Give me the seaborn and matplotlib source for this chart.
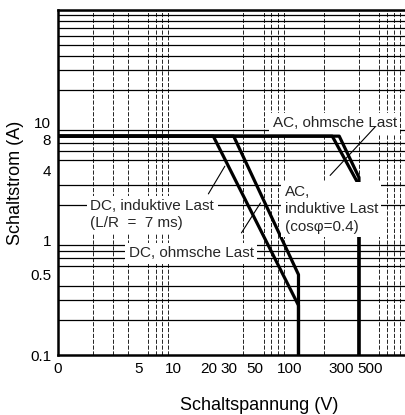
import numpy as np
import pandas as pd
import matplotlib
matplotlib.use("Agg")
import matplotlib.pyplot as plt
import seaborn as sns
from matplotlib.ticker import FixedLocator, FixedFormatter, LogLocator, NullFormatter
from matplotlib.transforms import ScaledTranslation

# Grenzkurven (Schaltspannung V, Schaltstrom A)
dc_induktiv_v = [1, 22, 120, 120]
dc_induktiv_a = [8, 8, 0.27, 0.1]
dc_ohmsch_v = [1, 33, 120, 120]
dc_ohmsch_a = [8, 8, 0.5, 0.1]
ac_induktiv_v = [1, 235, 400, 400]
ac_induktiv_a = [8, 8, 3.0, 0.1]
ac_ohmsch_v = [1, 270, 400, 400]
ac_ohmsch_a = [8, 8, 3.5, 0.1]

x_ticks = [1, 5, 10, 20, 30, 50, 100, 300, 500]
x_labels = ["0", "5", "10", "20", "30", "50", "100", "300", "500"]
y_ticks = [0.1, 0.5, 1, 4, 8, 10]
y_labels = ["0.1", "0.5", "1", "4", "8", "10"]

sns.set_theme(style="white")
plt.rcParams["font.family"] = ["Liberation Sans", "DejaVu Sans"]

curves = {
    "DC, induktive Last": (dc_induktiv_v, dc_induktiv_a),
    "DC, ohmsche Last": (dc_ohmsch_v, dc_ohmsch_a),
    "AC, induktive Last": (ac_induktiv_v, ac_induktiv_a),
    "AC, ohmsche Last": (ac_ohmsch_v, ac_ohmsch_a),
}
frames = []
for name, (v, a) in curves.items():
    d = pd.DataFrame({"V": v, "A": a})
    d["Kurve"] = name
    frames.append(d)
df = pd.concat(frames, ignore_index=True)

fig = plt.figure(figsize=(4.05, 4.15), dpi=100)
ax = fig.add_axes([58 / 405, 60 / 415, 347 / 405, 345 / 415])
ax.set_xscale("log")
ax.set_yscale("log")

sns.lineplot(data=df, x="V", y="A", hue="Kurve", units="Kurve", estimator=None,
             sort=False, palette={k: "black" for k in curves}, linewidth=2.3,
             legend=False, ax=ax, zorder=3)

ax.set_xlim(1, 1000)
ax.set_ylim(0.1, 100)

# log grid: every 1..9 per decade
ax.xaxis.set_minor_locator(LogLocator(base=10, subs=np.arange(1, 10), numticks=50))
ax.yaxis.set_minor_locator(LogLocator(base=10, subs=np.arange(1, 10), numticks=50))
ax.xaxis.set_minor_formatter(NullFormatter())
ax.yaxis.set_minor_formatter(NullFormatter())
ax.grid(False)
ax.grid(which="minor", axis="y", color="black", linewidth=0.9, zorder=1)
ax.grid(which="minor", axis="x", color="black", linewidth=0.6,
        linestyle=(0, (5, 2)), zorder=1)
ax.set_axisbelow(True)

ax.xaxis.set_major_locator(FixedLocator(x_ticks))
ax.xaxis.set_major_formatter(FixedFormatter(x_labels))
ax.yaxis.set_major_locator(FixedLocator(y_ticks))
ax.yaxis.set_major_formatter(FixedFormatter(y_labels))
ax.tick_params(which="both", length=0, labelsize=11, colors="black")
ax.tick_params(axis="x", pad=5)
ax.tick_params(axis="y", pad=5)

for side in ["left", "top", "bottom"]:
    ax.spines[side].set_color("black")
    ax.spines[side].set_linewidth(1.8)
ax.spines["right"].set_visible(False)

ax.set_xlabel("Schaltspannung (V)", fontsize=13, color="black")
ax.xaxis.set_label_coords(0.58, -0.122)
ax.set_ylabel("Schaltstrom (A)", fontsize=13, color="black")
ax.yaxis.set_label_coords(-0.097, 0.5)

box = dict(facecolor="white", edgecolor="none", pad=2.5)
ax.text(72, 10.4, "AC, ohmsche Last", fontsize=11, ha="left", va="center",
        bbox=box, zorder=5)
ax.text(91, 3.0, "AC,\ninduktive Last\n(cos\u03c6=0.4)", fontsize=11, ha="left",
        va="top", linespacing=1.3, bbox=box, zorder=5)
ax.text(1.9, 2.25, "DC, induktive Last\n(L/R  =  7 ms)", fontsize=11, ha="left",
        va="top", linespacing=1.2, bbox=box, zorder=5)
ax.text(4.1, 0.77, "DC, ohmsche Last", fontsize=11, ha="left", va="center",
        bbox=box, zorder=5)

lead = dict(arrowstyle="-", color="black", linewidth=0.8)
ax.annotate("", xy=(28.5, 4.6), xytext=(19.4, 2.4), arrowprops=lead, zorder=6)
ax.annotate("", xy=(58, 2.2), xytext=(37.4, 1.1), arrowprops=lead, zorder=6)
ax.annotate("", xy=(217, 3.5), xytext=(572, 10.0), arrowprops=lead, zorder=6)

# small nudges of crowded tick labels, as in the printed chart
def nudge(tick, dx, dy):
    tick.label1.set_transform(tick.label1.get_transform()
                              + ScaledTranslation(dx / 100, dy / 100, fig.dpi_scale_trans))

yt = ax.yaxis.get_major_ticks()
nudge(yt[y_labels.index("10")], 0, 2)
nudge(yt[y_labels.index("8")], 0, -3)
xt = ax.xaxis.get_major_ticks()
nudge(xt[x_labels.index("300")], -3, 0)

fig.savefig("out.png", dpi=100, facecolor="white")
